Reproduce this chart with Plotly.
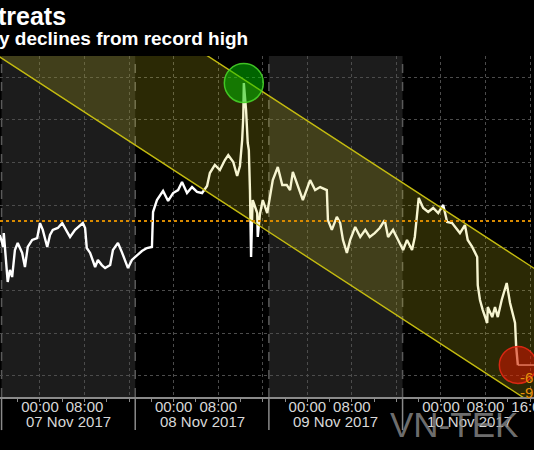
import plotly.graph_objects as go

# hours since 07 Nov 2017 00:00 and price (USD)
hours = [-7.2, -6.6, -6.5, -6.1, -5.8, -5.4, -5.0, -4.5, -4.0, -3.2, -2.7, -2.2, -1.4, -0.5,
         0.0, 0.5, 1.3, 1.8, 2.3, 3.2, 4.0, 4.9, 5.4, 6.3, 7.2, 7.7, 8.1, 8.4, 9.0, 9.9,
         10.4, 11.1, 11.7, 12.6, 13.1, 14.0, 14.7, 15.3, 15.8, 16.5, 17.4, 18.3, 19.2, 20.1,
         20.3, 21.0, 22.1, 23.0, 23.9, 24.8, 25.5, 26.4, 27.3, 28.2, 29.1, 30.0, 30.5, 31.4,
         32.3, 33.2, 33.8, 34.7, 35.4, 35.9, 36.3, 36.5, 36.6, 37.0, 37.3, 37.5, 37.7, 37.9,
         38.1, 38.2, 39.0, 39.1, 39.5, 40.0, 40.8, 41.3, 41.8, 42.7, 43.5, 44.3, 44.9, 45.4,
         46.3, 47.2, 48.5, 49.4, 50.3, 51.5, 51.7, 52.4, 53.3, 53.9, 54.4, 55.1, 55.7, 56.6,
         57.5, 58.4, 59.2, 60.1, 61.0, 61.9, 62.5, 63.4, 64.3, 65.2, 65.9, 66.8, 67.3, 67.7,
         68.0, 68.8, 69.7, 70.6, 71.5, 72.4, 73.1, 74.0, 74.9, 75.4, 76.3, 76.8, 77.6, 78.1,
         78.5, 78.6, 79.0, 79.5, 80.3, 80.4, 81.2, 81.7, 82.2, 82.9, 83.5, 83.8, 84.4, 84.9,
         85.3, 85.5, 85.6, 85.8]
price = [7060, 7004, 7069, 6919, 6840, 6896, 6863, 6990, 7023, 6976, 6910, 7004, 7037, 7046,
         7116, 7084, 7004, 7060, 7084, 7093, 7116, 7074, 7051, 7084, 7107, 7116, 7093, 6999, 6976, 6910,
         6943, 6919, 6905, 6919, 6990, 7023, 6980, 6943, 6905, 6943, 6966, 6985, 6999, 7004,
         7168, 7224, 7267, 7220, 7257, 7271, 7309, 7257, 7285, 7262, 7257, 7290, 7351, 7389,
         7365, 7412, 7435, 7403, 7337, 7384, 7506, 7614, 7773, 7647, 7492, 7459, 7271, 6957,
         7154, 7224, 7163, 7051, 7159, 7224, 7163, 7248, 7318, 7379, 7295, 7295, 7271, 7356,
         7285, 7224, 7318, 7271, 7285, 7271, 7130, 7084, 7145, 7116, 7037, 6976, 7037, 7098,
         7051, 7084, 7051, 7069, 7093, 7130, 7051, 7084, 7037, 6990, 7037, 6990, 7051, 7145,
         7234, 7187, 7168, 7187, 7163, 7201, 7121, 7116, 7084, 7069, 7107, 7037, 7004, 6976,
         6957, 6825, 6755, 6708, 6647, 6722, 6675, 6722, 6675, 6755, 6802, 6835, 6741, 6694,
         6647, 6535, 6488, 6450]

ref_level = 7126  # orange dotted level

# trend channel: two parallel lines, given at two times
chan_hours = [-15, 95]
chan_lower = [8028, 6158]
chan_upper = [8667, 6797]

# session boundaries (hours) and their labels
day_edges = [-6.9, 17.1, 41.1, 65.1]
day_labels = ["07 Nov 2017", "08 Nov 2017", "09 Nov 2017", "10 Nov 2017"]
day_mid = [5.1, 29.1, 53.1, 77.1]

tick_hours = [0, 8, 16, 24, 32, 40, 48, 56, 64, 72, 80, 88]
tick_text = ["00:00", "08:00", "", "00:00", "08:00", "", "00:00", "08:00", "", "00:00", "08:00", "16:00"]

x_range = [-7.18, 88.7]
y_range = [6300, 7900]

fig = go.Figure()

fig.add_trace(go.Scatter(x=hours, y=price, mode="lines",
                         line=dict(color="white", width=2.4), hoverinfo="skip"))
# leader from last value to the right edge
fig.add_trace(go.Scatter(x=[hours[-1], x_range[1]], y=[price[-1], price[-1]], mode="lines",
                         line=dict(color="white", width=1.5), hoverinfo="skip"))

# channel overlay drawn on top of the price line
fig.add_trace(go.Scatter(
    x=[chan_hours[0], chan_hours[1], chan_hours[1], chan_hours[0], chan_hours[0]],
    y=[chan_lower[0], chan_lower[1], chan_upper[1], chan_upper[0], chan_lower[0]],
    mode="lines", fill="toself", fillcolor="rgba(215,205,25,0.2)",
    line=dict(color="#c4bb10", width=1.4), hoverinfo="skip"))

# record high and latest value markers
i_peak = price.index(max(price))
fig.add_trace(go.Scatter(x=[hours[i_peak]], y=[price[i_peak]], mode="markers",
                         marker=dict(size=39, color="rgba(0,200,0,0.5)",
                                     line=dict(color="rgba(70,210,40,0.9)", width=1.5)),
                         hoverinfo="skip"))
fig.add_trace(go.Scatter(x=[hours[-1]], y=[price[-1]], mode="markers",
                         marker=dict(size=37, color="rgba(215,20,0,0.55)",
                                     line=dict(color="rgba(230,40,20,0.9)", width=1.5)),
                         hoverinfo="skip"))

shapes = []
for i in (0, 2):
    shapes.append(dict(type="rect", xref="x", yref="paper", x0=day_edges[i], x1=day_edges[i + 1],
                       y0=0, y1=1, fillcolor="#1c1c1c", line_width=0, layer="below"))
for e in day_edges:
    shapes.append(dict(type="line", xref="x", yref="paper", x0=e, x1=e, y0=0, y1=1,
                       line=dict(color="#5a5a5a", width=1.5, dash="dash"), layer="between"))
    shapes.append(dict(type="line", xref="x", yref="paper", x0=e, x1=e, y0=0, y1=-0.097,
                       line=dict(color="#8a8a8a", width=1.5)))
shapes.append(dict(type="line", xref="paper", yref="y", x0=0, x1=1, y0=ref_level, y1=ref_level,
                   line=dict(color="#d88a00", width=2, dash="dot"), layer="above"))

annotations = []
for lab, m in zip(day_labels, day_mid):
    annotations.append(dict(x=m, y=0, xref="x", yref="paper", text=lab, showarrow=False,
                            yanchor="top", yshift=-14,
                            font=dict(family="Liberation Sans", size=15, color="#d8d8d8")))
annotations += [
    dict(x=0, y=1.117, xref="paper", yref="paper", text="<b>treats</b>", showarrow=False,
         xanchor="left", yanchor="middle", xshift=-4,
         font=dict(family="Liberation Sans", size=25, color="white")),
    dict(x=0, y=1.052, xref="paper", yref="paper", text="<b>y declines from record high</b>",
         showarrow=False, xanchor="left", yanchor="middle", xshift=-3,
         font=dict(family="Liberation Sans", size=19, color="white")),
    dict(x=0.97, y=0.057, xref="paper", yref="paper", text="-6", showarrow=False,
         xanchor="left", yanchor="middle",
         font=dict(family="Liberation Sans", size=15, color="#e8900c")),
    dict(x=0.97, y=0.012, xref="paper", yref="paper", text="-9", showarrow=False,
         xanchor="left", yanchor="middle",
         font=dict(family="Liberation Sans", size=15, color="#e8900c")),
    dict(x=0.85, y=-0.08, xref="paper", yref="paper", text="VN-TEK", showarrow=False,
         xanchor="center", yanchor="middle",
         font=dict(family="Liberation Sans", size=35, color="rgba(140,140,140,0.8)")),
]

fig.update_layout(
    width=534, height=450,
    margin=dict(l=0, r=0, t=56, b=53, pad=0),
    paper_bgcolor="black", plot_bgcolor="black",
    showlegend=False,
    shapes=shapes, annotations=annotations,
    xaxis=dict(range=x_range, tickmode="array", tickvals=tick_hours, ticktext=tick_text,
               automargin=False,
               showgrid=True, gridcolor="#4c4c4c", griddash="dot", gridwidth=1,
               zeroline=False, showline=True, linecolor="#8a8a8a", linewidth=1.5,
               ticks="outside", ticklen=3, tickcolor="#8a8a8a", ticklabeloverflow="allow",
               ticklabelstandoff=-8,
               tickfont=dict(family="Liberation Sans", size=15, color="#d8d8d8"),
               minor=dict(tickvals=list(range(-4, 89, 4)), ticks="outside", ticklen=3,
                          tickcolor="#8a8a8a", showgrid=False)),
    yaxis=dict(range=y_range, dtick=200, showticklabels=False, showgrid=True, automargin=False,
               gridcolor="#4c4c4c", griddash="dot", gridwidth=1, zeroline=False),
)

# page margin off so the figure sits at the window's corner
fig.write_html("out.html", config={"displayModeBar": False},
               post_script="document.body.style.margin='0';document.body.style.background='black';")
